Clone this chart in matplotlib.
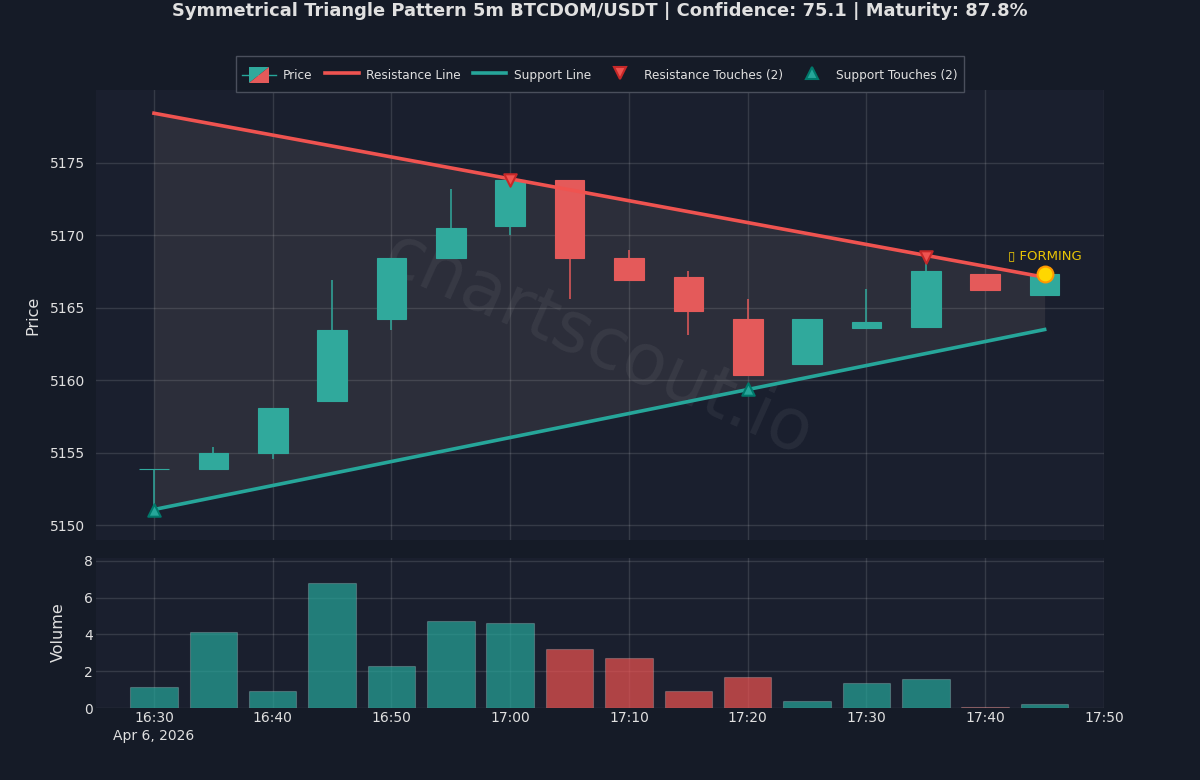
from datetime import datetime, timedelta
import matplotlib
matplotlib.use('Agg')
import matplotlib.pyplot as plt
import matplotlib.dates as mdates
from matplotlib.colors import to_rgba
from matplotlib.legend_handler import HandlerBase
from matplotlib.lines import Line2D
from matplotlib.patches import Polygon, Patch, Rectangle

BG = '#151b27'
PANEL = '#1a1f2e'
GRID = '#ffffff'
TEXT = '#e0e0e0'
UP = '#26a69a'
DOWN = '#ef5350'
BODY_UP = '#30a99c'
BODY_DOWN = '#e45a5a'

times = [datetime(2026, 4, 6, 16, 30) + timedelta(minutes=5 * i) for i in range(16)]
opens = [5153.9, 5153.9, 5155.0, 5158.6, 5164.2, 5168.4, 5170.6, 5173.8,
         5168.4, 5167.1, 5164.2, 5161.1, 5163.6, 5163.7, 5167.3, 5165.9]
highs = [5153.9, 5155.4, 5158.1, 5166.9, 5168.4, 5173.2, 5173.8, 5173.8,
         5169.0, 5167.5, 5165.6, 5164.2, 5166.3, 5168.5, 5167.3, 5167.3]
lows = [5151.1, 5153.9, 5154.6, 5158.6, 5163.5, 5168.4, 5170.0, 5165.6,
        5166.9, 5163.1, 5160.4, 5161.1, 5163.6, 5163.6, 5166.2, 5165.9]
closes = [5153.9, 5155.0, 5158.1, 5163.5, 5168.4, 5170.5, 5173.8, 5168.4,
          5166.9, 5164.8, 5160.4, 5164.2, 5164.0, 5167.5, 5166.2, 5167.3]
volumes = [1.15, 4.15, 0.9, 6.8, 2.3, 4.7, 4.6, 3.2, 2.7, 0.9, 1.7, 0.4, 1.35, 1.55, 0.08, 0.22]

res_times = [times[0], times[15]]
res_values = [5178.4, 5167.1]
sup_times = [times[0], times[15]]
sup_values = [5151.1, 5163.5]
res_touch_times = [times[6], times[13]]
res_touch_values = [5173.8, 5168.5]
sup_touch_times = [times[0], times[10]]
sup_touch_values = [5151.1, 5159.4]

price_ticks = [5150, 5155, 5160, 5165, 5170, 5175]
volume_ticks = [0, 2, 4, 6, 8]
tick_times = [datetime(2026, 4, 6, 16, 30) + timedelta(minutes=10 * i) for i in range(9)]
tick_labels = ['16:30\nApr 6, 2026', '16:40', '16:50', '17:00', '17:10', '17:20', '17:30', '17:40', '17:50']


class PriceHandler(HandlerBase):
    # candle swatch split in two colours, with a wick through it
    def create_artists(self, legend, orig, xd, yd, w, h, fontsize, trans):
        cx = w / 2 - xd
        cy = h / 2 - yd
        bw = w * 0.29
        bh = h * 0.47
        top = Polygon([(cx - bw, cy - bh), (cx - bw, cy + bh), (cx + bw, cy + bh)],
                      closed=True, fc=BODY_UP, ec='none', transform=trans)
        bottom = Polygon([(cx - bw, cy - bh), (cx + bw, cy - bh), (cx + bw, cy + bh)],
                         closed=True, fc=BODY_DOWN, ec='none', transform=trans)
        wick = Line2D([-xd, w - xd], [cy, cy], color=UP, lw=1, transform=trans)
        return [wick, top, bottom]


fig = plt.figure(figsize=(12, 7.8), dpi=100, facecolor=BG)
ax = fig.add_axes([96 / 1200, 1 - 540 / 780, 1008 / 1200, 450 / 780], facecolor=PANEL)
ax_v = fig.add_axes([96 / 1200, 1 - 708 / 780, 1008 / 1200, 150 / 780], facecolor=PANEL)

x_num = mdates.date2num(times)
minute = 1 / 1440

for i in range(len(times)):
    col = BODY_UP if closes[i] >= opens[i] else BODY_DOWN
    ax.vlines(x_num[i], lows[i], highs[i], color=col, lw=1.1, zorder=3)
    ax.bar(x_num[i], abs(closes[i] - opens[i]), bottom=min(opens[i], closes[i]),
           width=2.5 * minute, color=col, edgecolor=col, lw=0.8, zorder=3)

ax.fill_between(mdates.date2num(res_times), sup_values, res_values, color='#ceb5a6', alpha=0.1, lw=0, zorder=1)
ax.plot(mdates.date2num(res_times), res_values, color=DOWN, lw=2.6, zorder=4)
ax.plot(mdates.date2num(sup_times), sup_values, color=UP, lw=2.6, zorder=4)
ax.scatter(mdates.date2num(res_touch_times), res_touch_values, marker='v', s=80, color=DOWN,
           edgecolor='#c62828', lw=1.5, zorder=5)
ax.scatter(mdates.date2num(sup_touch_times), sup_touch_values, marker='^', s=80, color=UP,
           edgecolor='#00796b', lw=1.5, zorder=5)
ax.scatter(x_num[15], closes[15], marker='o', s=130, color='#ffd700', edgecolor='#ff9800', lw=1.5, zorder=6)
ax.annotate('\u25af FORMING', (x_num[15], closes[15]), xytext=(0, 8.5), textcoords='offset points',
            ha='center', va='bottom', color='#ffd700', fontsize=9.5, alpha=0.9, zorder=6)

ax.text(0.498, 0.433, 'chartscout.io', transform=ax.transAxes, ha='center', va='center', rotation=-24,
        fontsize=51, color='#ffffff', alpha=0.06, zorder=2)

for i in range(len(times)):
    col = UP if closes[i] >= opens[i] else DOWN
    ax_v.bar(x_num[i], volumes[i], width=4 * minute, color=to_rgba(col, 0.7),
             edgecolor=to_rgba('#ffffff', 0.2), lw=0.8, zorder=3)

x_left = mdates.date2num(datetime(2026, 4, 6, 16, 25, 7))
x_right = mdates.date2num(datetime(2026, 4, 6, 17, 50))
for a in (ax, ax_v):
    a.set_xlim(x_left, x_right)
    a.grid(True, color=GRID, alpha=0.12, lw=1, zorder=0)
    a.set_axisbelow(True)
    for s in a.spines.values():
        s.set_visible(False)
    a.tick_params(length=0, colors=TEXT, labelsize=10)

ax.set_ylim(5149, 5180)
ax.set_yticks(price_ticks)
ax.set_xticks(mdates.date2num(tick_times))
ax.set_xticklabels([])
ax.yaxis.get_major_formatter().set_useOffset(False)
ax.tick_params(axis='y', pad=8)
ax.set_ylabel('Price', color=TEXT, fontsize=11.5)
ax.yaxis.set_label_coords((40 - 96) / 1008, 0.5)

ax_v.set_ylim(0, 8.15)
ax_v.set_yticks(volume_ticks)
ax_v.set_xticks(mdates.date2num(tick_times))
ax_v.set_xticklabels(tick_labels, linespacing=1.35)
ax_v.tick_params(axis='x', pad=2)
ax_v.tick_params(axis='y', pad=2)
ax_v.set_ylabel('Volume', color=TEXT, fontsize=11.5)
ax_v.yaxis.set_label_coords((66 - 96) / 1008, 0.507)

handles = [Patch(color=UP),
           Line2D([], [], color=DOWN, lw=2.6),
           Line2D([], [], color=UP, lw=2.6),
           Line2D([], [], color=DOWN, marker='v', ms=9, ls='none', mec='#c62828', mew=1.5),
           Line2D([], [], color=UP, marker='^', ms=9, ls='none', mec='#00796b', mew=1.5)]
labels = ['Price', 'Resistance Line', 'Support Line', 'Resistance Touches (2)', 'Support Touches (2)']

# legend frame is taller than matplotlib would make it, so it is drawn separately
fig.add_artist(Rectangle((236 / 1200, 1 - 92 / 780), 728 / 1200, 36 / 780, transform=fig.transFigure,
                         fc=BG, ec='#4a4f5c', lw=1, zorder=3))
leg = fig.legend(handles, labels, ncol=5, loc='center', bbox_to_anchor=(600 / 1200, 1 - 75 / 780),
                 handler_map={handles[0]: PriceHandler()}, fontsize=8.7, frameon=False, labelcolor=TEXT,
                 columnspacing=1.0, handletextpad=0.6, handlelength=2.8, handleheight=1.8, borderpad=0.55)
leg.set_zorder(4)

fig.text(0.5, 1 - 10.5 / 780, 'Symmetrical Triangle Pattern 5m BTCDOM/USDT | Confidence: 75.1 | Maturity: 87.8%',
         ha='center', va='center', color=TEXT, fontsize=12.9, fontweight='bold')

fig.savefig('out.png', dpi=100, facecolor=BG)
